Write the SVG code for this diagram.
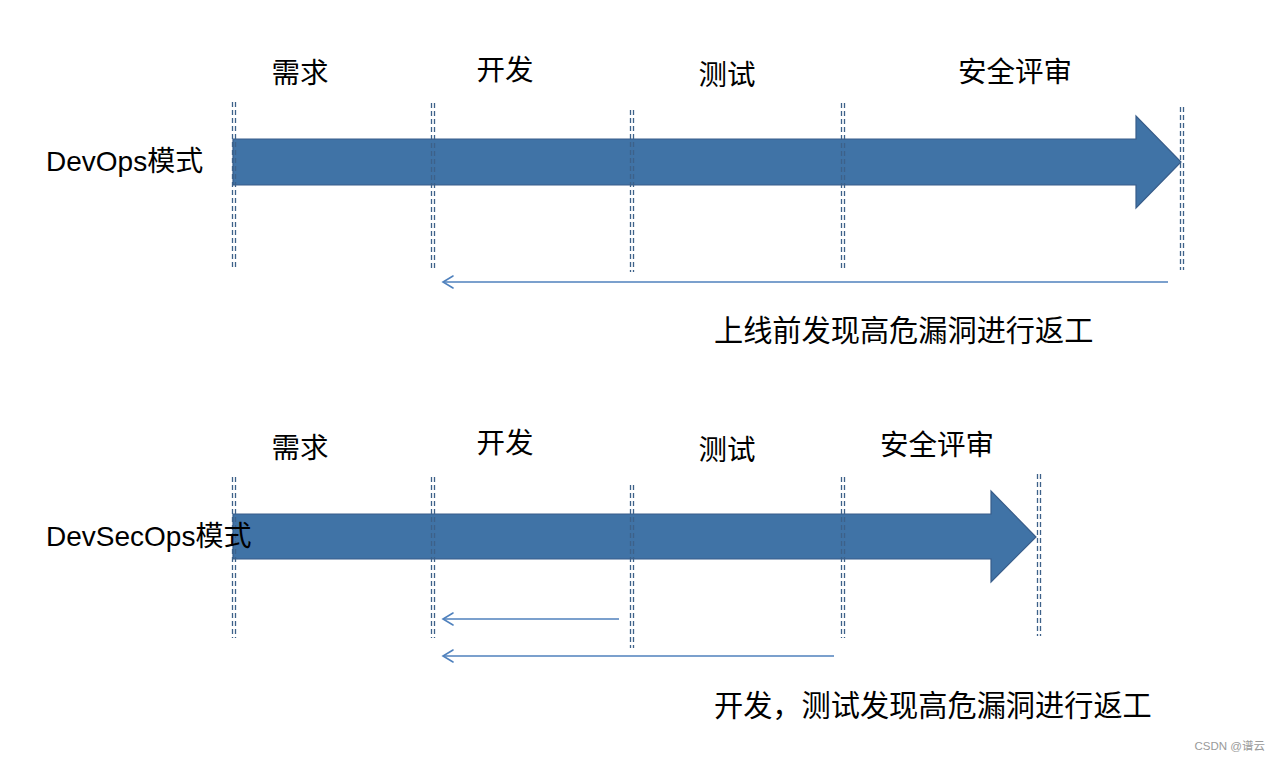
<svg xmlns="http://www.w3.org/2000/svg" width="1280" height="761" viewBox="0 0 1280 761">
<defs>
<style>
.t{font-family:"Liberation Sans","Noto Sans CJK SC",sans-serif;fill:#000}
.h{font-size:28.5px;text-anchor:middle}
.lbl{font-size:28px}
.cap{font-size:29.2px}
.big{fill:#4073a6;stroke:#385d8a;stroke-width:1.2}
.dash{stroke:#3d6189;stroke-width:1.3;stroke-dasharray:5 3;fill:none}
.ret{stroke:#4f81bd;stroke-width:1.6;fill:none}
.hd{stroke:#4f81bd;stroke-width:1.6;fill:none;stroke-linecap:round}
</style>
</defs>
<rect width="1280" height="761" fill="#fff"/>

<g id="top">
<g id="arrow1"><path class="big" d="M233 139H1136V116L1181 162L1136 208V185H233Z"/></g>
<g id="dividers1">
<path class="dash" d="M232.5 102V268M235.5 102V268"/>
<path class="dash" d="M431.5 103V268M434.5 103V268"/>
<path class="dash" d="M630.5 110V272M633.5 110V272"/>
<path class="dash" d="M841.5 103V268M844.5 103V268"/>
<path class="dash" d="M1180.5 107V270M1183.5 107V270"/>
</g>
<g id="labels1">
<text class="t h" x="300" y="83">需求</text>
<text class="t h" x="505" y="80">开发</text>
<text class="t h" x="727" y="85">测试</text>
<text class="t h" x="1015" y="82">安全评审</text>
<text class="t lbl" x="46" y="171">DevOps模式</text>
<text class="t cap" x="714" y="341">上线前发现高危漏洞进行返工</text>
</g>
</g>

<g id="bottom">
<g id="arrow2"><path class="big" d="M233 514H991V491L1036 537L991 582V559H233Z"/></g>
<g id="dividers2">
<path class="dash" d="M232.5 477V638M235.5 477V638"/>
<path class="dash" d="M431.5 477V638M434.5 477V638"/>
<path class="dash" d="M630.5 485V648M633.5 485V648"/>
<path class="dash" d="M841.5 477V638M844.5 477V638"/>
<path class="dash" d="M1037.5 474V636M1040.5 474V636"/>
</g>
<g id="labels2">
<text class="t h" x="300" y="458">需求</text>
<text class="t h" x="505" y="453">开发</text>
<text class="t h" x="727" y="460">测试</text>
<text class="t h" x="937" y="455">安全评审</text>
<text class="t lbl" x="46" y="546">DevSecOps模式</text>
<text class="t cap" x="714" y="716">开发，测试发现高危漏洞进行返工</text>
</g>
</g>

<g id="connectors">
<path class="ret" d="M1168 282H443"/>
<path class="hd" d="M453 276L443 282L453 288"/>
<path class="ret" d="M619 619H443"/>
<path class="hd" d="M453 613L443 619L453 625"/>
<path class="ret" d="M834 656H443"/>
<path class="hd" d="M453 650L443 656L453 662"/>
</g>

<text class="t" x="1265" y="750" font-size="11.5" text-anchor="end" style="fill:#9a9a9a">CSDN @谱云</text>
</svg>
